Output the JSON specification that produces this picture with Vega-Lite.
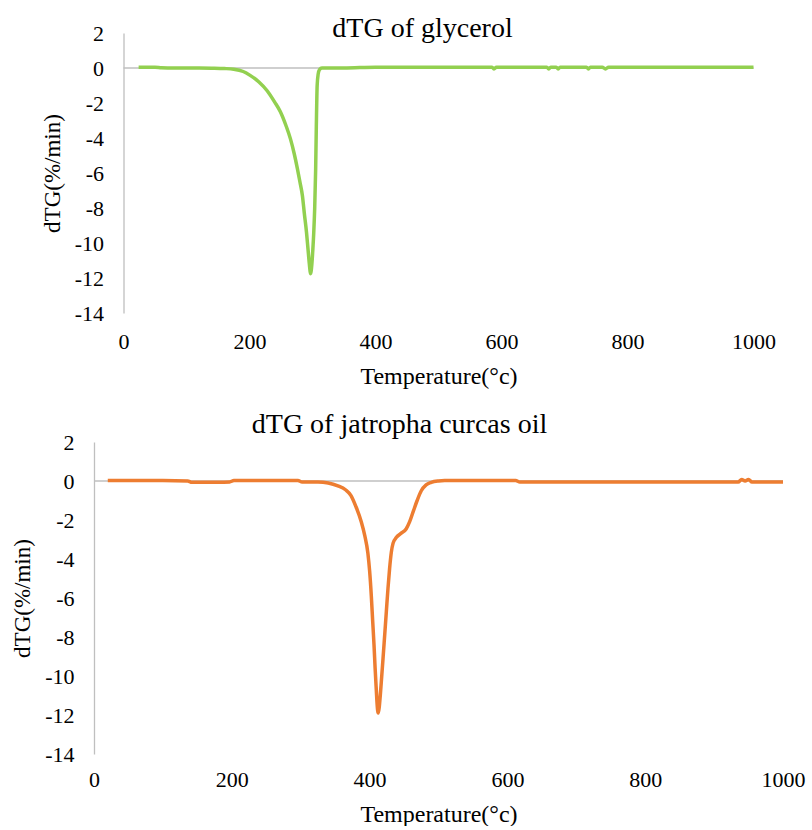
{
  "$schema": "https://vega.github.io/schema/vega-lite/v6.json",
  "background": "white",
  "padding": {"left": 11, "top": 15, "right": 5, "bottom": 0},
  "config": {"font": "Liberation Serif", "view": {"stroke": null}},
  "center": true,
  "spacing": 23,
  "datasets": {
    "glycerol": [
      {"T": 24, "dTG": 0.05}, {"T": 50, "dTG": 0.05}, {"T": 60, "dTG": 0.02}, {"T": 80, "dTG": 0.0},
      {"T": 100, "dTG": 0.0}, {"T": 120, "dTG": 0.0}, {"T": 140, "dTG": -0.01}, {"T": 160, "dTG": -0.03},
      {"T": 175, "dTG": -0.07}, {"T": 190, "dTG": -0.2}, {"T": 201, "dTG": -0.42}, {"T": 215, "dTG": -0.8},
      {"T": 228, "dTG": -1.3}, {"T": 240, "dTG": -1.95}, {"T": 249, "dTG": -2.5}, {"T": 258, "dTG": -3.3},
      {"T": 265, "dTG": -4.05}, {"T": 271, "dTG": -4.9}, {"T": 276, "dTG": -5.75}, {"T": 280, "dTG": -6.5},
      {"T": 284, "dTG": -7.3}, {"T": 287, "dTG": -8.3}, {"T": 290.5, "dTG": -9.4}, {"T": 293, "dTG": -10.4},
      {"T": 295, "dTG": -11.2}, {"T": 297, "dTG": -11.75}, {"T": 299, "dTG": -11.2}, {"T": 300.5, "dTG": -10.4},
      {"T": 302, "dTG": -9.4}, {"T": 303.5, "dTG": -8.0}, {"T": 305, "dTG": -5.8}, {"T": 306, "dTG": -3.5},
      {"T": 307.4, "dTG": -1.0}, {"T": 309, "dTG": -0.35}, {"T": 311, "dTG": -0.1}, {"T": 315, "dTG": 0.0},
      {"T": 330, "dTG": 0.0}, {"T": 350, "dTG": 0.0}, {"T": 400, "dTG": 0.05}, {"T": 450, "dTG": 0.05},
      {"T": 500, "dTG": 0.05}, {"T": 550, "dTG": 0.05}, {"T": 585, "dTG": 0.05}, {"T": 588, "dTG": -0.05},
      {"T": 592, "dTG": 0.05}, {"T": 650, "dTG": 0.05}, {"T": 672, "dTG": 0.05}, {"T": 675, "dTG": -0.05},
      {"T": 678, "dTG": 0.05}, {"T": 687, "dTG": 0.05}, {"T": 690, "dTG": -0.05}, {"T": 693, "dTG": 0.05},
      {"T": 735, "dTG": 0.05}, {"T": 738, "dTG": -0.05}, {"T": 741, "dTG": 0.05}, {"T": 760, "dTG": 0.05},
      {"T": 765, "dTG": -0.05}, {"T": 770, "dTG": 0.05}, {"T": 800, "dTG": 0.05}, {"T": 850, "dTG": 0.05},
      {"T": 900, "dTG": 0.05}, {"T": 950, "dTG": 0.05}, {"T": 1000, "dTG": 0.05}
    ],
    "jatropha": [
      {"T": 20, "dTG": 0.02}, {"T": 60, "dTG": 0.02}, {"T": 100, "dTG": 0.02}, {"T": 136, "dTG": 0.0},
      {"T": 142, "dTG": -0.07}, {"T": 180, "dTG": -0.07}, {"T": 197, "dTG": -0.05}, {"T": 203, "dTG": 0.02},
      {"T": 250, "dTG": 0.02}, {"T": 296, "dTG": 0.02}, {"T": 302, "dTG": -0.05}, {"T": 325, "dTG": -0.05},
      {"T": 340, "dTG": -0.1}, {"T": 354, "dTG": -0.25}, {"T": 365, "dTG": -0.45}, {"T": 373, "dTG": -0.75},
      {"T": 380, "dTG": -1.3}, {"T": 388, "dTG": -2.1}, {"T": 393, "dTG": -2.8}, {"T": 397.5, "dTG": -3.7},
      {"T": 400, "dTG": -4.6}, {"T": 402.5, "dTG": -5.9}, {"T": 404.5, "dTG": -7.2}, {"T": 406.4, "dTG": -8.4},
      {"T": 408, "dTG": -9.6}, {"T": 409.7, "dTG": -10.7}, {"T": 411, "dTG": -11.5}, {"T": 412.5, "dTG": -11.9},
      {"T": 414, "dTG": -11.6}, {"T": 415.5, "dTG": -11.0}, {"T": 417, "dTG": -10.3}, {"T": 419.5, "dTG": -9.1},
      {"T": 421.9, "dTG": -7.9}, {"T": 424.3, "dTG": -6.7}, {"T": 426.7, "dTG": -5.5}, {"T": 429, "dTG": -4.5},
      {"T": 431.5, "dTG": -3.66}, {"T": 434, "dTG": -3.2}, {"T": 438.7, "dTG": -2.9}, {"T": 445, "dTG": -2.7},
      {"T": 453, "dTG": -2.46}, {"T": 458, "dTG": -2.1}, {"T": 463, "dTG": -1.6}, {"T": 469, "dTG": -1.0},
      {"T": 475, "dTG": -0.5}, {"T": 482, "dTG": -0.2}, {"T": 489.6, "dTG": -0.07}, {"T": 500, "dTG": 0.0},
      {"T": 509, "dTG": 0.02}, {"T": 550, "dTG": 0.02}, {"T": 600, "dTG": 0.02}, {"T": 612, "dTG": 0.02},
      {"T": 618, "dTG": -0.05}, {"T": 700, "dTG": -0.05}, {"T": 800, "dTG": -0.05}, {"T": 900, "dTG": -0.05},
      {"T": 935, "dTG": -0.05}, {"T": 940, "dTG": 0.08}, {"T": 945, "dTG": 0.0}, {"T": 950, "dTG": 0.08},
      {"T": 955, "dTG": -0.05}, {"T": 1000, "dTG": -0.05}
    ]
  },
  "vconcat": [
    {
      "width": 630,
      "height": 280,
      "title": {"text": "dTG of glycerol", "fontSize": 28, "fontWeight": "normal", "font": "Liberation Serif", "color": "#000000", "dx": -16, "offset": -21},
      "layer": [
        {
          "data": {"values": [{}]},
          "mark": {"type": "rule", "color": "#BFBFBF", "strokeWidth": 1.3},
          "encoding": {"y": {"datum": 0, "type": "quantitative", "scale": {"domain": [-14, 2], "nice": false},
            "axis": {"values": [-14, -12, -10, -8, -6, -4, -2, 0, 2], "labelExpr": "datum.value < 0 ? '-' + abs(datum.value) : '' + datum.value", "domain": true, "domainColor": "#BFBFBF", "domainWidth": 1.3, "ticks": false, "grid": false, "labelFontSize": 22, "labelPadding": 20, "labelFlush": false, "labelOverlap": false, "labelColor": "#000000", "title": "dTG(%/min)", "titleFontSize": 23, "titleFontWeight": "normal", "titleColor": "#000000", "titlePadding": 10}}}
        },
        {
          "data": {"name": "glycerol"},
          "mark": {"type": "line", "color": "#92D050", "strokeWidth": 3.5, "interpolate": "monotone"},
          "encoding": {
            "x": {"field": "T", "type": "quantitative", "scale": {"domain": [0, 1000], "nice": false},
              "axis": {"values": [0, 200, 400, 600, 800, 1000], "format": "d", "domain": false, "ticks": false, "grid": false, "labelFontSize": 22, "labelPadding": 18, "labelFlush": false, "labelOverlap": false, "labelColor": "#000000", "title": "Temperature(°c)", "titleFontSize": 24, "titleFontWeight": "normal", "titleColor": "#000000", "titlePadding": 12}},
            "y": {"field": "dTG", "type": "quantitative", "scale": {"domain": [-14, 2], "nice": false},
              "axis": {"values": [-14, -12, -10, -8, -6, -4, -2, 0, 2], "labelExpr": "datum.value < 0 ? '-' + abs(datum.value) : '' + datum.value", "domain": true, "domainColor": "#BFBFBF", "domainWidth": 1.3, "ticks": false, "grid": false, "labelFontSize": 22, "labelPadding": 20, "labelFlush": false, "labelOverlap": false, "labelColor": "#000000", "title": "dTG(%/min)", "titleFontSize": 23, "titleFontWeight": "normal", "titleColor": "#000000", "titlePadding": 10}}
          }
        }
      ]
    },
    {
      "width": 689,
      "height": 312,
      "title": {"text": "dTG of jatropha curcas oil", "fontSize": 28, "fontWeight": "normal", "font": "Liberation Serif", "color": "#000000", "dx": -39, "offset": -8},
      "layer": [
        {
          "data": {"values": [{}]},
          "mark": {"type": "rule", "color": "#BFBFBF", "strokeWidth": 1.3},
          "encoding": {"y": {"datum": 0, "type": "quantitative", "scale": {"domain": [-14, 2], "nice": false},
            "axis": {"values": [-14, -12, -10, -8, -6, -4, -2, 0, 2], "labelExpr": "datum.value < 0 ? '-' + abs(datum.value) : '' + datum.value", "domain": true, "domainColor": "#BFBFBF", "domainWidth": 1.3, "ticks": false, "grid": false, "labelFontSize": 22, "labelPadding": 20, "labelFlush": false, "labelOverlap": false, "labelColor": "#000000", "title": "dTG(%/min)", "titleFontSize": 23, "titleFontWeight": "normal", "titleColor": "#000000", "titlePadding": 10}}}
        },
        {
          "data": {"name": "jatropha"},
          "mark": {"type": "line", "color": "#ED7D31", "strokeWidth": 3.5, "interpolate": "monotone"},
          "encoding": {
            "x": {"field": "T", "type": "quantitative", "scale": {"domain": [0, 1000], "nice": false},
              "axis": {"values": [0, 200, 400, 600, 800, 1000], "format": "d", "domain": false, "ticks": false, "grid": false, "labelFontSize": 22, "labelPadding": 15, "labelFlush": false, "labelOverlap": false, "labelColor": "#000000", "title": "Temperature(°c)", "titleFontSize": 24, "titleFontWeight": "normal", "titleColor": "#000000", "titlePadding": 12}},
            "y": {"field": "dTG", "type": "quantitative", "scale": {"domain": [-14, 2], "nice": false},
              "axis": {"values": [-14, -12, -10, -8, -6, -4, -2, 0, 2], "labelExpr": "datum.value < 0 ? '-' + abs(datum.value) : '' + datum.value", "domain": true, "domainColor": "#BFBFBF", "domainWidth": 1.3, "ticks": false, "grid": false, "labelFontSize": 22, "labelPadding": 20, "labelFlush": false, "labelOverlap": false, "labelColor": "#000000", "title": "dTG(%/min)", "titleFontSize": 23, "titleFontWeight": "normal", "titleColor": "#000000", "titlePadding": 10}}
          }
        }
      ]
    }
  ]
}
